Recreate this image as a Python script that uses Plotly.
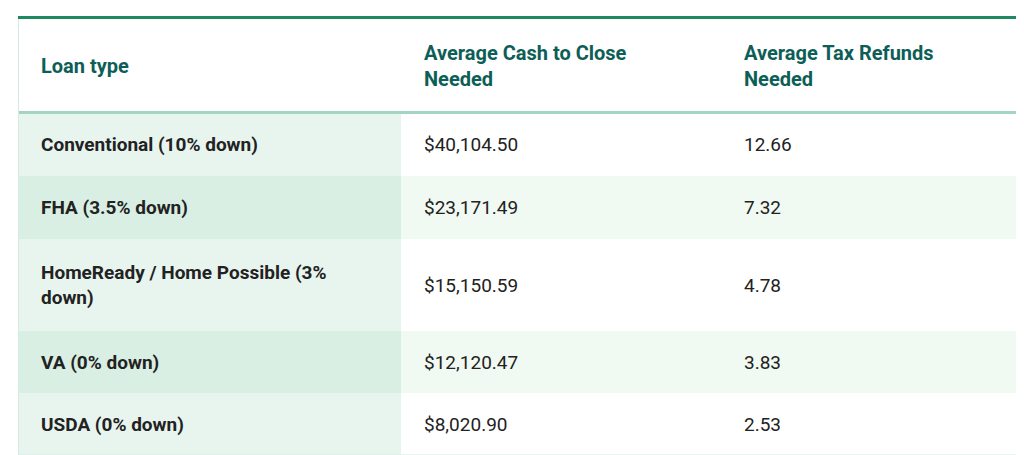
import plotly.graph_objects as go

header = ["Loan type", "Average Cash to Close<br>Needed", "Average Tax Refunds<br>Needed"]
loan_types = ["Conventional (10% down)", "FHA (3.5% down)", "HomeReady / Home Possible (3%<br>down)",
              "VA (0% down)", "USDA (0% down)"]
cash_to_close = ["$40,104.50", "$23,171.49", "$15,150.59", "$12,120.47", "$8,020.90"]
tax_refunds = ["12.66", "7.32", "4.78", "3.83", "2.53"]

# layout in pixels
col_edges = [10, 393, 713, 1016]
row_edges = [11, 104, 168, 231, 323, 385, 447]
pad = 21
col1_fill = ["#e8f5ef", "#d9efe3", "#e8f5ef", "#d9efe3", "#e8f5ef"]
other_fill = ["#ffffff", "#f1f9f3", "#ffffff", "#f1f9f3", "#ffffff"]

fig = go.Figure()
shapes, annots = [], []

def cell_text(text, c, r, size, color, bold):
    y = (row_edges[r] + row_edges[r + 1]) / 2
    annots.append(dict(x=col_edges[c] + pad, y=y, xref="x", yref="y", text=("<b>%s</b>" % text) if bold else text,
                       showarrow=False, xanchor="left", yanchor="middle", align="left",
                       font=dict(family="Roboto", size=size, color=color)))

for c, h in enumerate(header):
    cell_text(h, c, 0, 20, "#0d5e56", True)

cols = [loan_types, cash_to_close, tax_refunds]
for r in range(len(loan_types)):
    for c, col in enumerate(cols):
        fill = col1_fill[r] if c == 0 else other_fill[r]
        shapes.append(dict(type="rect", x0=col_edges[c], x1=col_edges[c + 1], y0=row_edges[r + 1],
                           y1=row_edges[r + 2], fillcolor=fill, line_width=0, layer="below"))
        cell_text(col[r], c, r + 1, 19, "#222222", c == 0)

# borders
shapes.append(dict(type="line", x0=10, x1=1016, y0=9.5, y1=9.5, line=dict(color="#1f8a62", width=3)))
shapes.append(dict(type="line", x0=10, x1=1016, y0=104.5, y1=104.5, line=dict(color="#a5d4c6", width=3)))
shapes.append(dict(type="line", x0=10, x1=1016, y0=447, y1=447, line=dict(color="#d5ebe2", width=1)))
shapes.append(dict(type="line", x0=10.5, x1=10.5, y0=11, y1=447, line=dict(color="#d5ebe2", width=1)))
shapes.append(dict(type="line", x0=1015.5, x1=1015.5, y0=11, y1=447, line=dict(color="#d5ebe2", width=1)))

fig.update_layout(width=1024, height=455, margin=dict(l=0, r=0, t=0, b=0),
                  paper_bgcolor="white", plot_bgcolor="white", shapes=shapes, annotations=annots,
                  xaxis=dict(range=[0, 1024], visible=False, fixedrange=True),
                  yaxis=dict(range=[455, 0], visible=False, fixedrange=True))
fig.write_html("out.html")
